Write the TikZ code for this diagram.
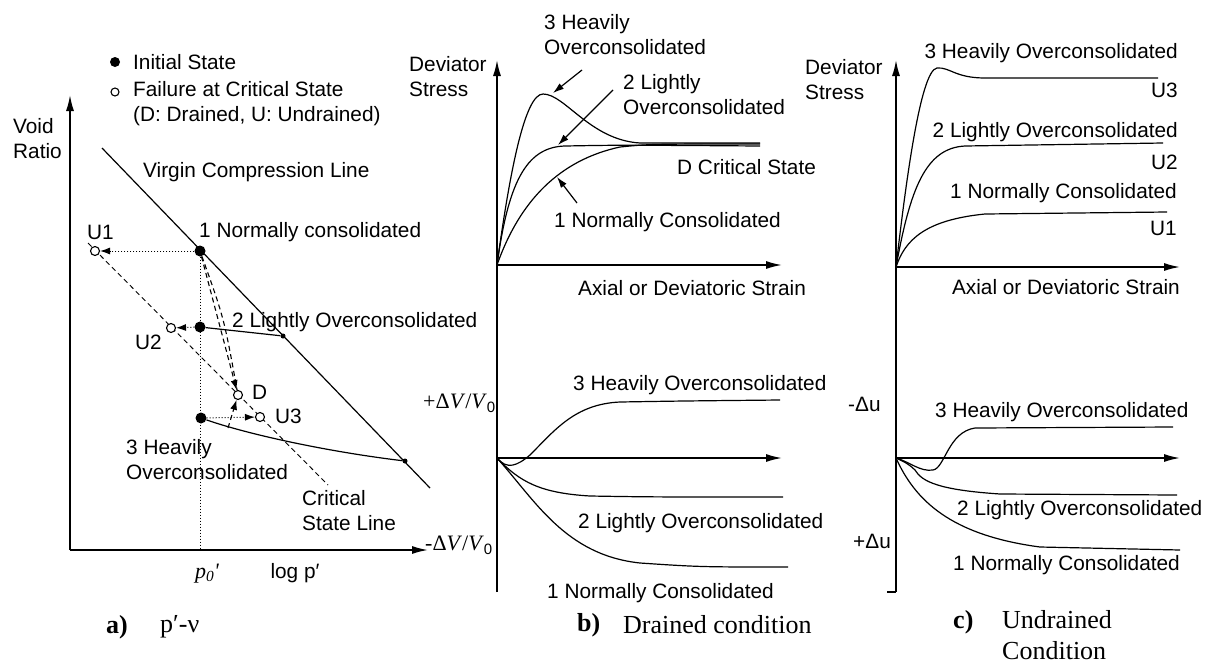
\documentclass[tikz,border=0pt]{standalone}
\usepackage{fontspec}
\setmainfont{Liberation Sans}
\newfontfamily\seriffont{Liberation Serif}
\usetikzlibrary{arrows.meta}

\tikzset{
  lbl/.style={font=\fontsize{20.8}{25}\selectfont, inner sep=0pt, align=left},
  capt/.style={font=\seriffont\fontsize{26}{31}\selectfont, inner sep=0pt, align=left},
  captbold/.style={font=\seriffont\bfseries\fontsize{26}{31}\selectfont, inner sep=0pt},
  axis/.style={line width=1.6pt, -{Latex[length=16pt,width=8pt]}},
  curve/.style={line width=1.2pt},
  pointer/.style={line width=1.2pt, -{Latex[length=11pt,width=7pt]}},
  pathdash/.style={line width=1.1pt, dash pattern=on 5pt off 3.5pt},
  pathdot/.style={line width=1pt, dotted},
  initial/.style={circle, fill, inner sep=0pt, minimum size=11pt},
  failure/.style={circle, draw, fill=white, line width=1.1pt, inner sep=0pt, minimum size=9pt},
  vcldot/.style={circle, fill, inner sep=0pt, minimum size=5pt},
}

\begin{document}
\begin{tikzpicture}[x=1pt,y=-1pt]
\useasboundingbox (0,0) rectangle (1212,667);

%% ---------- a) p'-v plane ----------
\coordinate (aO) at (70,550);
\draw[axis] (aO) -- (70,95);
\draw[axis] (aO) -- (428,550);
\node[lbl, anchor=west] (voidratio) at (13,139) {Void\\Ratio};

%% Legend
\node[initial, minimum size=10pt] (keyInit) at (115,62) {};
\node[lbl, anchor=west] (keyInitTxt) at (133,62) {Initial State};
\node[failure, minimum size=8pt] (keyFail) at (115,92) {};
\node[lbl, anchor=west] (keyFailTxt) at (133,104) {Failure at Critical State\\(D: Drained, U: Undrained)};

%% Virgin compression line and critical state line
\draw[curve] (102,148) -- (430,488);
\draw[pathdash, line width=0.9pt] (88,243) -- (328,485);
\node[lbl, anchor=west] (vcl) at (143,172) {Virgin Compression Line};
\node[lbl, anchor=west] (csl) at (302,511) {Critical\\State Line};

%% Initial states
\node[initial] (p1) at (200,251) {};
\node[initial] (p2) at (200,327) {};
\node[initial] (p3) at (201,418) {};
\node[vcldot] (v2) at (283,336) {};
\node[vcldot] (v3) at (405,461) {};
\draw[curve] (p2) -- (v2);
\draw[curve] (p3) .. controls (250,435) and (330,452) .. (v3);
\draw[pathdot] (p1) -- (p1 |- aO);

%% Failure states
\node[failure] (u1) at (95,251) {};
\node[failure] (u2) at (171,328) {};
\node[failure] (dD) at (238,395) {};
\node[failure] (u3) at (260,417) {};
\coordinate (d3) at (228,428);

\draw[pathdot, -{Latex[length=10pt,width=7pt]}] (p1) -- (u1);
\draw[pathdot, -{Latex[length=10pt,width=7pt]}] (p2) -- (u2);
\draw[pathdot, -{Latex[length=10pt,width=7pt]}] (p3) -- (u3);
\draw[pathdash, -{Latex[length=10pt,width=7pt]}] (p1) -- (dD);
\draw[pathdash] (p1) .. controls (224,318) .. (dD);
\draw[pathdash, -{Latex[length=10pt,width=7pt]}] (d3) -- (dD);

\node[lbl, anchor=west] (nc1) at (199,232) {1 Normally consolidated};
\node[lbl, anchor=west] (loc2) at (232,322) {2 Lightly Overconsolidated};
\node[lbl, anchor=west] (hoc3) at (126,460) {3 Heavily\\Overconsolidated};
\node[lbl, anchor=west] (u1txt) at (87,232) {U1};
\node[lbl, anchor=west] (u2txt) at (135,342) {U2};
\node[lbl, anchor=west] (dtxt) at (252,392) {D};
\node[lbl, anchor=west] (u3txt) at (275,416) {U3};
\node[lbl, font=\seriffont\itshape\fontsize{22}{22}\selectfont] (p0) at (207,574) {p\textsubscript{0}'};
\node[lbl] (logp) at (295,573) {log p′};

\node[captbold, anchor=west] (capA) at (106,627) {a)};
\node[capt, anchor=west] (capAtxt) at (160,627) {p′-ν};

%% ---------- b) drained ----------
\coordinate (bO) at (497,265);
\coordinate (bV) at (497,458);
\draw[axis] (497,592) -- (497,60);
\draw[axis] (bO) -- (782,265);
\draw[axis] (bV) -- (782,458);
\node[lbl, anchor=west] (bdev) at (409,77) {Deviator\\Stress};

%% stress-strain
\draw[curve] (bO) .. controls (510,170) and (525,94) .. (543,94)
  .. controls (565,94) and (590,140) .. (640,143) -- (760,143);
\draw[curve] (bO) .. controls (508,185) and (525,147) .. (565,146)
  .. controls (620,145) .. (760,146);
\draw[curve] (bO) .. controls (520,200) and (560,160) .. (620,147)
  .. controls (650,144) .. (760,144);

\coordinate (bHocTail) at (582,70);  \coordinate (bHocTip) at (553,93);
\coordinate (bLocTail) at (613,90);  \coordinate (bLocTip) at (558,145);
\coordinate (bNcTail) at (577,203);  \coordinate (bNcTip) at (557,177);
\draw[pointer] (bHocTail) -- (bHocTip);
\draw[pointer] (bLocTail) -- (bLocTip);
\draw[pointer] (bNcTail) -- (bNcTip);

\node[lbl, anchor=west] (bhoc) at (544,35) {3 Heavily\\Overconsolidated};
\node[lbl, anchor=west] (bloc) at (623,95) {2 Lightly\\Overconsolidated};
\node[lbl, anchor=west] (bcs) at (677,167) {D Critical State};
\node[lbl, anchor=west] (bnc) at (554,222) {1 Normally Consolidated};
\node[lbl, anchor=west] (bstrain) at (578,288) {Axial or Deviatoric Strain};

%% volume change
\draw[curve] (bV) .. controls (507,470) and (517,466) .. (530,455)
  .. controls (555,430) and (575,404) .. (620,402) .. controls (680,401) .. (780,400);
\draw[curve] (bV) .. controls (520,482) and (540,493) .. (590,496)
  .. controls (650,497) .. (783,497);
\draw[curve] (bV) .. controls (535,500) and (565,555) .. (640,563)
  .. controls (700,567) .. (788,567);

\node[lbl, anchor=west] (bvplus) at (423,403) {{\seriffont\fontsize{22}{22}\selectfont +Δ\textit{V}/\textit{V}}\raisebox{-4pt}{\fontsize{15}{15}\selectfont 0}};
\node[lbl, anchor=west] (bvminus) at (425,545) {{\seriffont\fontsize{22}{22}\selectfont -Δ\textit{V}/\textit{V}}\raisebox{-4pt}{\fontsize{15}{15}\selectfont 0}};
\node[lbl, anchor=west] (bvhoc) at (573,385) {3 Heavily Overconsolidated};
\node[lbl, anchor=west] (bvloc) at (578,523) {2 Lightly Overconsolidated};
\node[lbl, anchor=west] (bvnc) at (547,593) {1 Normally Consolidated};

\node[captbold, anchor=west] (capB) at (577,625) {b)};
\node[capt, anchor=west] (capBtxt) at (623,625) {Drained condition};

%% ---------- c) undrained ----------
\coordinate (cO) at (896,267);
\coordinate (cU) at (896,458);
\draw[axis] (896,592) -- (896,60);
\draw[line width=1.6pt] (887,592) -- (896,592);
\draw[axis] (cO) -- (1180,267);
\draw[axis] (cU) -- (1180,458);
\node[lbl, anchor=west] (cdev) at (805,80) {Deviator\\Stress};

%% stress-strain
\draw[curve] (cO) .. controls (905,190) and (920,70) .. (937,68)
  .. controls (950,67) and (955,78) .. (985,78) -- (1158,78);
\draw[curve] (cO) .. controls (910,190) and (925,148) .. (965,146) -- (1163,143);
\draw[curve] (cO) .. controls (905,240) and (925,220) .. (985,214) -- (1167,212);

\node[lbl, anchor=east] (choc) at (1178,53) {3 Heavily Overconsolidated};
\node[lbl, anchor=east] (cu3) at (1178,90) {U3};
\node[lbl, anchor=east] (cloc) at (1178,132) {2 Lightly Overconsolidated};
\node[lbl, anchor=east] (cu2) at (1178,162) {U2};
\node[lbl, anchor=east] (cnc) at (1177,193) {1 Normally Consolidated};
\node[lbl, anchor=east] (cu1) at (1177,228) {U1};
\node[lbl, anchor=east] (cstrain) at (1180,287) {Axial or Deviatoric Strain};

%% pore pressure
\draw[curve] (cU) .. controls (910,462) and (920,472) .. (933,470)
  .. controls (945,468) and (948,432) .. (975,428) -- (1173,427);
\draw[curve] (cU) .. controls (905,462) and (910,465) .. (915,470)
  .. controls (922,482) and (940,490) .. (1000,494) -- (1177,495);
\draw[curve] (cU) .. controls (915,500) and (950,535) .. (1040,547) -- (1180,550);

\node[lbl, anchor=west] (cuminus) at (848,404) {-Δu};
\node[lbl, anchor=west] (cuplus) at (853,541) {+Δu};
\node[lbl, anchor=west] (cuhoc) at (935,412) {3 Heavily Overconsolidated};
\node[lbl, anchor=west] (culoc) at (957,510) {2 Lightly Overconsolidated};
\node[lbl, anchor=west] (cunc) at (953,565) {1 Normally Consolidated};

\node[captbold, anchor=west] (capC) at (953,622) {c)};
\node[capt, anchor=west] (capCtxt) at (1002,635) {Undrained\\Condition};
\end{tikzpicture}
\end{document}
